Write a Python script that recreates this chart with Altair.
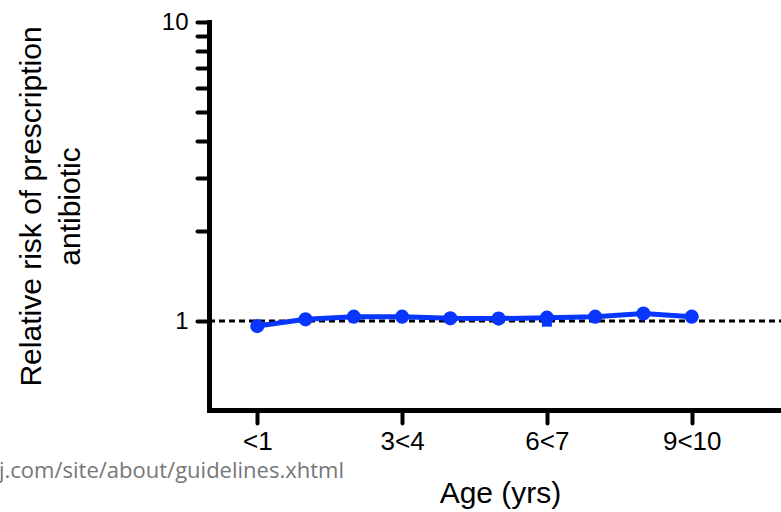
import json
import altair as alt
import pandas as pd

# ---- data ----
age_groups = ["<1", "1<2", "2<3", "3<4", "4<5", "5<6", "6<7", "7<8", "8<9", "9<10"]
relative_risk = [0.962, 1.013, 1.034, 1.034, 1.021, 1.019, 1.026, 1.034, 1.059, 1.034]
hidden_series_groups = ["6<7"]
hidden_series_risk = [0.995]
reference_level = [1.0]
x_tick_groups = ["<1", "3<4", "6<7", "9<10"]
y_tick_values = [1, 2, 3, 4, 5, 6, 7, 8, 9, 10]
y_labelled_values = [1, 10]
watermark_text = ["j.com/site/about/guidelines.xhtml"]

# ---- tables ----
main_df = pd.DataFrame({"idx": list(range(len(age_groups))), "age": age_groups, "rr": relative_risk})
hidden_df = pd.DataFrame({"idx": [age_groups.index(g) for g in hidden_series_groups], "rr": hidden_series_risk})
ref_df = pd.DataFrame({"rr": reference_level})
wm_df = pd.DataFrame({"t": watermark_text})

W, H = 572, 388
BLUE = "#0836FE"
FONT = "Liberation Sans"

x_label_expr = json.dumps(age_groups) + "[round(datum.value)]"
y_label_expr = "indexof(" + json.dumps(y_labelled_values) + ", datum.value) >= 0 ? format(datum.value, 'd') : ''"

x_scale = alt.Scale(domain=[-1, 10.85], nice=False, zero=False)
y_scale = alt.Scale(type="log", domain=[0.504, 10], nice=False)

x_axis = alt.Axis(
    values=[age_groups.index(g) for g in x_tick_groups],
    labelExpr=x_label_expr,
    title="Age (yrs)",
    grid=False,
    domainColor="black", domainWidth=5, domainCap="square",
    tickColor="black", tickWidth=4, tickSize=13, tickCap="round",
    labelFont=FONT, labelFontSize=26, labelColor="black", labelPadding=5,
    labelAngle=0, labelFlush=False, labelOverlap=False,
    titleFont=FONT, titleFontSize=30, titleFontWeight="normal", titleColor="black",
    titleX=291, titleY=92, titleBaseline="alphabetic", titleAlign="center", titleAnchor="middle",
)
y_axis = alt.Axis(
    values=y_tick_values,
    labelExpr=y_label_expr,
    title=["Relative risk of prescription", "antibiotic"],
    grid=False,
    domainColor="black", domainWidth=5, domainCap="square",
    tickColor="black", tickWidth=4, tickSize=12, tickCap="round",
    labelFont=FONT, labelFontSize=24, labelColor="black", labelPadding=9,
    labelBaseline="middle", labelFlush=False, labelOverlap=False,
    titleFont=FONT, titleFontSize=30, titleFontWeight="normal", titleColor="black",
    titleLineHeight=39, titleAngle=270,
    titleX=-169, titleY=184, titleBaseline="alphabetic", titleAlign="center", titleAnchor="middle",
)

ref_rule = alt.Chart(ref_df).mark_rule(color="black", strokeWidth=3, strokeDash=[6, 4]).encode(
    y=alt.Y("rr:Q", scale=y_scale, axis=y_axis),
    x=alt.value(0),
    x2=alt.value(W),
)

line = alt.Chart(main_df).mark_line(color=BLUE, strokeWidth=5).encode(
    x=alt.X("idx:Q", scale=x_scale, axis=x_axis),
    y=alt.Y("rr:Q", scale=y_scale, axis=y_axis),
)

squares = alt.Chart(hidden_df).mark_point(shape="square", filled=True, color=BLUE, size=100, opacity=1).encode(
    x=alt.X("idx:Q", scale=x_scale, axis=x_axis),
    y=alt.Y("rr:Q", scale=y_scale, axis=y_axis),
)

points = alt.Chart(main_df).mark_circle(color=BLUE, size=200, opacity=1).encode(
    x=alt.X("idx:Q", scale=x_scale, axis=x_axis),
    y=alt.Y("rr:Q", scale=y_scale, axis=y_axis),
)

watermark = alt.Chart(wm_df).mark_text(
    align="left", baseline="alphabetic", font="Open Sans", fontSize=22, color="#777777"
).encode(
    text="t:N",
    x=alt.value(-210),
    y=alt.value(456),
)

chart = alt.layer(ref_rule, line, squares, points, watermark).properties(
    width=W,
    height=H,
    background="white",
    autosize=alt.AutoSizeParams(type="none"),
    padding={"left": 209, "top": 22, "right": 0, "bottom": 102},
).configure_view(stroke=None, strokeWidth=0)

chart.save("out.html", embed_options={"renderer": "svg", "actions": False})
